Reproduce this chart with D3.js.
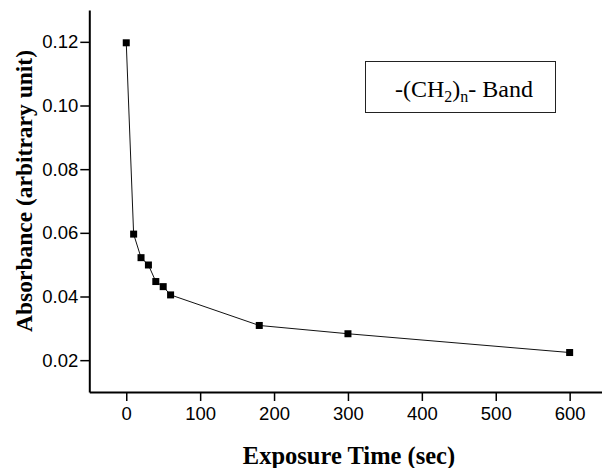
<!DOCTYPE html>
<html>
<head>
<meta charset="utf-8">
<script src="https://cdn.jsdelivr.net/npm/d3@7"></script>
<style>
  body { margin: 0; background: #fff; }
  svg { display: block; }
</style>
</head>
<body>
<div id="chart"></div>
<script>
// data
const times = [0, 10, 20, 30, 40, 50, 60, 180, 300, 600];
const absorbance = [0.1197, 0.0596, 0.0522, 0.0499, 0.0447, 0.0431, 0.0405, 0.0309, 0.0283, 0.0224];
const xTicks = [0, 100, 200, 300, 400, 500, 600];
const yTicks = [0.02, 0.04, 0.06, 0.08, 0.10, 0.12];

const width = 602;
const height = 468;

const svg = d3.select("#chart").append("svg")
    .attr("width", width)
    .attr("height", height);

// scales
const x = d3.scaleLinear().domain([-50, 650]).range([89.3, 606.6]);
const y = d3.scaleLinear().domain([0.01, 0.13]).range([392, 10]);

// x axis
const xAxis = svg.append("g")
    .attr("transform", `translate(0, ${y(0.01)})`)
    .call(d3.axisBottom(x).tickValues(xTicks).tickSize(9).tickPadding(6).tickSizeOuter(0));

// y axis
const yAxis = svg.append("g")
    .attr("transform", `translate(${x(-50)}, 0)`)
    .call(d3.axisLeft(y).tickValues(yTicks).tickSize(9).tickPadding(2).tickSizeOuter(0)
        .tickFormat(d3.format(".2f")));

[xAxis, yAxis].forEach(ax => {
    ax.select(".domain").attr("stroke", "#000").attr("stroke-width", 2);
    ax.selectAll(".tick line").attr("stroke", "#000").attr("stroke-width", 1.5);
    ax.selectAll(".tick text")
        .attr("fill", "#000")
        .attr("font-family", "Liberation Sans, Arial, sans-serif")
        .attr("font-size", 18.5);
});

// line + markers
const pts = times.map((t, i) => ({t: t, a: absorbance[i]}));

svg.append("path")
    .datum(pts)
    .attr("fill", "none")
    .attr("stroke", "#111")
    .attr("stroke-width", 1)
    .attr("d", d3.line().x(d => x(d.t)).y(d => y(d.a)));

const ms = 7;
svg.selectAll(".pt")
    .data(pts)
    .enter().append("rect")
    .attr("class", "pt")
    .attr("x", d => x(d.t) - ms / 2)
    .attr("y", d => y(d.a) - ms / 2)
    .attr("width", ms)
    .attr("height", ms)
    .attr("fill", "#000");

// axis titles
svg.append("text")
    .attr("x", 349)
    .attr("y", 464)
    .attr("text-anchor", "middle")
    .attr("font-family", "Liberation Serif, Times New Roman, serif")
    .attr("font-weight", "bold")
    .attr("font-size", 24.5)
    .text("Exposure Time (sec)");

svg.append("text")
    .attr("transform", "translate(32, 191) rotate(-90)")
    .attr("text-anchor", "middle")
    .attr("font-family", "Liberation Serif, Times New Roman, serif")
    .attr("font-weight", "bold")
    .attr("font-size", 23.5)
    .text("Absorbance (arbitrary unit)");

// legend box
svg.append("rect")
    .attr("x", 365.5)
    .attr("y", 61.5)
    .attr("width", 190)
    .attr("height", 51)
    .attr("fill", "#fff")
    .attr("stroke", "#222")
    .attr("stroke-width", 1);

const lg = svg.append("text")
    .attr("x", 395)
    .attr("y", 97)
    .attr("font-family", "Liberation Serif, Times New Roman, serif")
    .attr("font-size", 24);
lg.append("tspan").text("-(CH");
lg.append("tspan").attr("font-size", 16).attr("dy", 5).text("2");
lg.append("tspan").attr("dy", -5).text(")");
lg.append("tspan").attr("font-size", 16).attr("dy", 5).text("n");
lg.append("tspan").attr("dy", -5).text("- Band");
</script>
</body>
</html>
